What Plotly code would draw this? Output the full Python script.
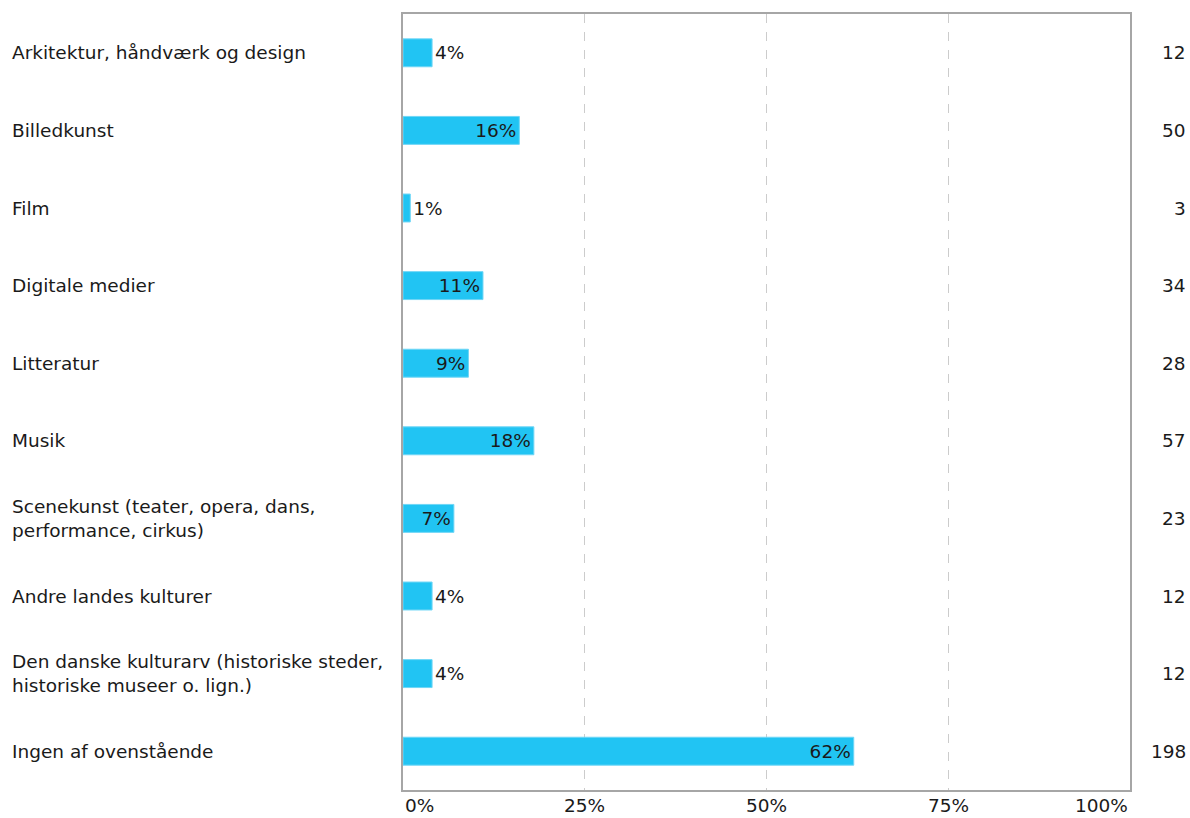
import plotly.graph_objects as go

categories = [
    "Arkitektur, håndværk og design",
    "Billedkunst",
    "Film",
    "Digitale medier",
    "Litteratur",
    "Musik",
    "Scenekunst (teater, opera, dans,<br>performance, cirkus)",
    "Andre landes kulturer",
    "Den danske kulturarv (historiske steder,<br>historiske museer o. lign.)",
    "Ingen af ovenstående",
]
percent_values = [4, 16, 1, 11, 9, 18, 7, 4, 4, 62]
percent_labels = ["4%", "16%", "1%", "11%", "9%", "18%", "7%", "4%", "4%", "62%"]
counts = ["12", "50", "3", "34", "28", "57", "23", "12", "12", "198"]
tick_values = [0, 25, 50, 75, 100]
tick_labels = ["0%", "25%", "50%", "75%", "100%"]

FONT = "DejaVu Sans"
FS = 18.5
TXT = "#1a1a1a"

W, H = 1190, 818
ML, MR, MT, MB = 403, 60, 14, 28
PW = W - ML - MR

positions = ["outside" if v < 5 else "inside" for v in percent_values]
ypos = list(range(len(categories)))

fig = go.Figure()
fig.add_trace(go.Bar(
    x=percent_values,
    y=ypos,
    orientation="h",
    width=0.36,
    marker=dict(color="#21C4F3", line=dict(color="#6fd6f6", width=1)),
    text=percent_labels,
    textposition=positions,
    insidetextanchor="end",
    textfont=dict(family=FONT, size=FS, color=TXT),
    insidetextfont=dict(family=FONT, size=FS, color=TXT),
    outsidetextfont=dict(family=FONT, size=FS, color=TXT),
    cliponaxis=False,
    hoverinfo="skip",
))

annotations = []
for i, c in enumerate(categories):
    annotations.append(dict(
        x=(10 - ML) / PW, xref="paper", y=i, yref="y",
        text=c, showarrow=False, xanchor="left", yanchor="middle", align="left",
        font=dict(family=FONT, size=FS, color=TXT),
    ))
    annotations.append(dict(
        x=(1188 - ML) / PW, xref="paper", y=i, yref="y",
        text=counts[i], showarrow=False, xanchor="right", yanchor="middle", align="right",
        font=dict(family=FONT, size=FS, color=TXT),
    ))
for k, (tv, tl) in enumerate(zip(tick_values, tick_labels)):
    anchor = "left" if k == 0 else ("right" if k == len(tick_values) - 1 else "center")
    annotations.append(dict(
        x=tv, xref="x", y=0, yref="paper", yshift=-3,
        text=tl, showarrow=False, xanchor=anchor, yanchor="top",
        font=dict(family=FONT, size=FS, color=TXT),
    ))

fig.update_layout(
    width=W, height=H,
    margin=dict(l=ML, r=MR, t=MT, b=MB),
    paper_bgcolor="white", plot_bgcolor="white",
    showlegend=False,
    font=dict(family=FONT, size=FS, color=TXT),
    annotations=annotations,
    xaxis=dict(
        range=[0, 100], tickvals=tick_values, showticklabels=False,
        showgrid=True, gridcolor="#cccccc", griddash="dash", gridwidth=1,
        showline=True, linecolor="#a6a6a6", linewidth=1.5, mirror=True,
        zeroline=False, fixedrange=True,
    ),
    yaxis=dict(
        range=[len(categories) - 0.5, -0.5], showticklabels=False,
        showgrid=False, showline=True, linecolor="#a6a6a6", linewidth=1.5, mirror=True,
        zeroline=False, fixedrange=True,
    ),
)

fig.write_html(
    "out.html",
    config={"displayModeBar": False},
    post_script="document.body.style.margin='0px';document.body.style.overflow='hidden';",
)
